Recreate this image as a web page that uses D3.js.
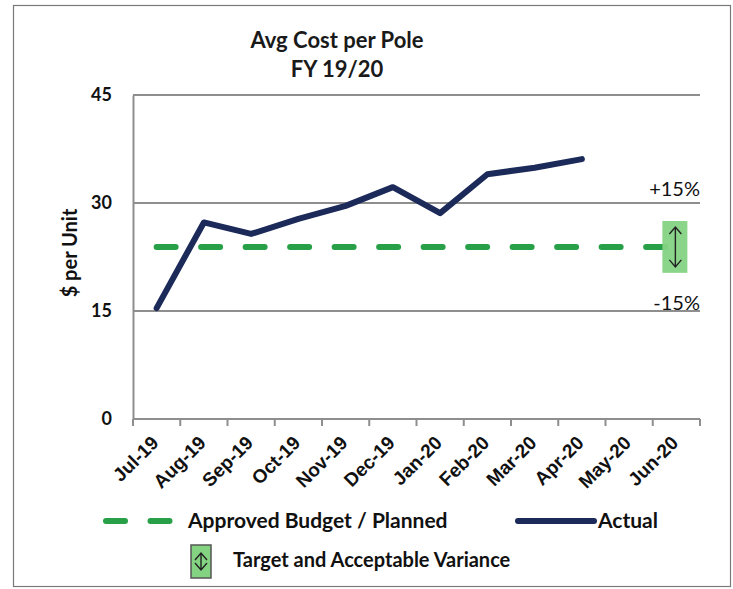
<!DOCTYPE html>
<html>
<head>
<meta charset="utf-8">
<script src="https://cdn.jsdelivr.net/npm/d3@7"></script>
<style>
  html, body { margin: 0; padding: 0; background: #fff; }
  svg { display: block; }
</style>
</head>
<body>
<svg id="chart" width="733" height="589"></svg>
<script>
// data
var months = ["Jul-19", "Aug-19", "Sep-19", "Oct-19", "Nov-19", "Dec-19",
              "Jan-20", "Feb-20", "Mar-20", "Apr-20", "May-20", "Jun-20"];
var actual = [15.4, 27.3, 25.7, 27.8, 29.6, 32.2, 28.6, 34.0, 34.9, 36.1];
var budget = [23.9, 23.9, 23.9, 23.9, 23.9, 23.9, 23.9, 23.9, 23.9, 23.9, 23.9, 23.9];
var varianceLow = 20.3, varianceHigh = 27.5;
var yTicks = [0, 15, 30, 45];

var svg = d3.select("svg#chart"),
    margin = { top: 95, right: 33, bottom: 170, left: 133 },
    width = 700 - margin.left,
    height = 419 - margin.top;

var calibri = "Lato, 'Open Sans', sans-serif",
    arial = "'Liberation Sans', Arial, sans-serif",
    green = "#27a048",
    navy = "#1c2a5a",
    grid = "#8e8e8e";

// outer frame
svg.append("rect")
    .attr("x", 13.5).attr("y", 5.5)
    .attr("width", 717).attr("height", 581)
    .attr("fill", "none")
    .attr("stroke", "#7a7a7a")
    .attr("stroke-width", 1.2);

var x = d3.scaleBand().domain(months).range([0, width]).padding(0);
var y = d3.scaleLinear().domain([0, 45]).range([height, 0]);

var g = svg.append("g")
    .attr("transform", "translate(" + margin.left + "," + margin.top + ")");

// title
svg.append("text")
    .attr("x", 337).attr("y", 48)
    .attr("text-anchor", "middle")
    .style("font-family", calibri).style("font-weight", "bold").style("font-size", "22px")
    .attr("fill", "#1a1a1a")
    .text("Avg Cost per Pole");
svg.append("text")
    .attr("x", 337).attr("y", 77)
    .attr("text-anchor", "middle")
    .style("font-family", calibri).style("font-weight", "bold").style("font-size", "22px")
    .attr("fill", "#1a1a1a")
    .text("FY 19/20");

// grid lines
g.selectAll(".grid")
    .data(yTicks.filter(function (d) { return d > 0; }))
    .enter().append("line")
    .attr("class", "grid")
    .attr("x1", 0).attr("x2", width)
    .attr("y1", function (d) { return y(d); })
    .attr("y2", function (d) { return y(d); })
    .attr("stroke", grid).attr("stroke-width", 2);

// y axis
var yAxis = g.append("g")
    .attr("class", "axis axis--y")
    .call(d3.axisLeft(y).tickValues(yTicks).tickSize(0).tickPadding(21));
yAxis.select("path.domain").attr("stroke", grid).attr("stroke-width", 2);
yAxis.selectAll("text")
    .style("font-family", calibri).style("font-weight", "bold").style("font-size", "18px")
    .attr("fill", "#111");

// x axis: ticks at band edges, labels at band centres
var xAxis = g.append("g")
    .attr("class", "axis axis--x")
    .attr("transform", "translate(0," + height + ")");
xAxis.append("line")
    .attr("x1", 0).attr("x2", width)
    .attr("stroke", grid).attr("stroke-width", 2);
xAxis.selectAll(".tk")
    .data(months.concat(["end"]))
    .enter().append("line")
    .attr("class", "tk")
    .attr("x1", function (d, i) { return i * x.bandwidth(); })
    .attr("x2", function (d, i) { return i * x.bandwidth(); })
    .attr("y1", 0).attr("y2", 7)
    .attr("stroke", grid).attr("stroke-width", 2);
xAxis.selectAll(".lbl")
    .data(months)
    .enter().append("text")
    .attr("class", "lbl")
    .attr("transform", function (d) {
        return "translate(" + (x(d) + x.bandwidth() / 2 + 3) + ",25) rotate(-45)";
    })
    .attr("text-anchor", "end")
    .style("font-family", arial).style("font-weight", "bold").style("font-size", "19px")
    .attr("fill", "#111")
    .text(function (d) { return d; });

// y axis title
svg.append("text")
    .attr("transform", "translate(77,253) rotate(-90)")
    .attr("text-anchor", "middle")
    .style("font-family", calibri).style("font-weight", "bold").style("font-size", "20px")
    .attr("fill", "#111")
    .text("$ per Unit");

// variance labels
g.append("text")
    .attr("x", width).attr("y", y(30) - 7)
    .attr("text-anchor", "end")
    .style("font-family", calibri).style("font-size", "20px")
    .attr("fill", "#111")
    .text("+15%");
g.append("text")
    .attr("x", width).attr("y", y(15) - 1)
    .attr("text-anchor", "end")
    .style("font-family", calibri).style("font-size", "20px")
    .attr("fill", "#111")
    .text("-15%");

var cx = function (d, i) { return x(months[i]) + x.bandwidth() / 2; };

// budget line
g.append("path")
    .datum(budget)
    .attr("fill", "none")
    .attr("stroke", green)
    .attr("stroke-width", 6)
    .attr("stroke-linecap", "round")
    .attr("stroke-dasharray", "19 25.5")
    .attr("d", d3.line().x(cx).y(function (d) { return y(d); }));

// variance box at end of budget line
var boxX = x(months[11]) + x.bandwidth() / 2 - 14;
g.append("rect")
    .attr("x", boxX).attr("y", y(varianceHigh))
    .attr("width", 25).attr("height", y(varianceLow) - y(varianceHigh))
    .attr("fill", "#84d383").attr("opacity", 0.95);

function arrow(sel, ax, y1, y2) {
    sel.append("path")
        .attr("d", "M" + ax + "," + y1 + "V" + y2 +
                   "M" + (ax - 6) + "," + (y1 + 7) + "L" + ax + "," + y1 + "L" + (ax + 6) + "," + (y1 + 7) +
                   "M" + (ax - 6) + "," + (y2 - 7) + "L" + ax + "," + y2 + "L" + (ax + 6) + "," + (y2 - 7))
        .attr("fill", "none").attr("stroke", "#222").attr("stroke-width", 1.4);
}
arrow(g, boxX + 13, y(varianceHigh) + 6, y(varianceLow) - 6);

// actual line
g.append("path")
    .datum(actual)
    .attr("fill", "none")
    .attr("stroke", navy)
    .attr("stroke-width", 6)
    .attr("stroke-linecap", "round")
    .attr("stroke-linejoin", "round")
    .attr("d", d3.line().x(cx).y(function (d) { return y(d); }));

// legend
var legend = svg.append("g");
legend.append("line")
    .attr("x1", 106).attr("x2", 172).attr("y1", 521).attr("y2", 521)
    .attr("stroke", green).attr("stroke-width", 6)
    .attr("stroke-linecap", "round").attr("stroke-dasharray", "19 25.5");
legend.append("text")
    .attr("x", 188).attr("y", 528)
    .style("font-family", calibri).style("font-size", "21px").style("font-weight", "bold")
    .attr("fill", "#111")
    .text("Approved Budget / Planned");
legend.append("line")
    .attr("x1", 518).attr("x2", 594).attr("y1", 521).attr("y2", 521)
    .attr("stroke", navy).attr("stroke-width", 6).attr("stroke-linecap", "round");
legend.append("text")
    .attr("x", 598).attr("y", 528)
    .style("font-family", calibri).style("font-size", "21px").style("font-weight", "bold")
    .attr("fill", "#111")
    .text("Actual");
legend.append("rect")
    .attr("x", 191).attr("y", 545).attr("width", 20).attr("height", 33)
    .attr("fill", "#84d383").attr("stroke", "#555").attr("stroke-width", 1.5);
arrow(legend, 201, 553, 570);
legend.append("text")
    .attr("x", 233).attr("y", 567)
    .style("font-family", calibri).style("font-size", "20px").style("font-weight", "bold")
    .attr("fill", "#111")
    .text("Target and Acceptable Variance");
</script>
</body>
</html>
